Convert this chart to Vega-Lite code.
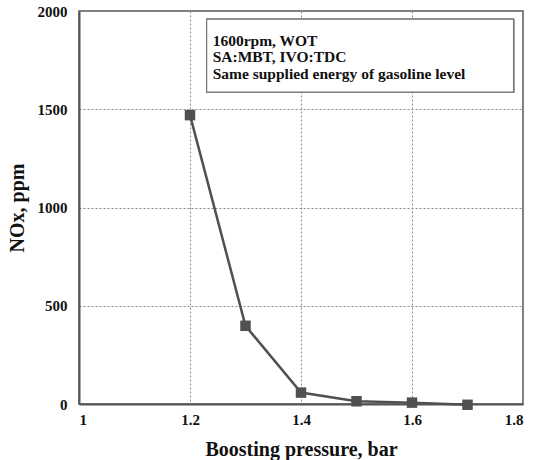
{
  "$schema": "https://vega.github.io/schema/vega-lite/v6.json",
  "width": 444,
  "height": 393,
  "autosize": {"type": "none"},
  "padding": {"left": 79, "top": 11, "right": 11, "bottom": 56},
  "background": "white",
  "config": {
    "font": "Liberation Serif",
    "view": {"stroke": "#555555", "strokeWidth": 1.5},
    "axis": {
      "labelFont": "Liberation Serif",
      "labelFontWeight": "bold",
      "labelFontSize": 15,
      "labelColor": "#111111",
      "titleFont": "Liberation Serif",
      "titleFontWeight": "bold",
      "titleFontSize": 20,
      "titleColor": "#111111",
      "ticks": false,
      "domainColor": "#555555",
      "domainWidth": 2,
      "gridColor": "#888888",
      "gridDash": [2, 2],
      "gridWidth": 1
    }
  },
  "data": {
    "values": [
      {"pressure": 1.2, "nox": 1470},
      {"pressure": 1.3, "nox": 398},
      {"pressure": 1.4, "nox": 58},
      {"pressure": 1.5, "nox": 14},
      {"pressure": 1.6, "nox": 7},
      {"pressure": 1.7, "nox": -4}
    ]
  },
  "layer": [
    {
      "mark": {"type": "line", "color": "#505050", "strokeWidth": 2.5},
      "encoding": {
        "x": {
          "field": "pressure",
          "type": "quantitative",
          "scale": {"domain": [1, 1.8], "nice": false},
          "axis": {
            "values": [1, 1.2, 1.4, 1.6, 1.8],
            "format": "~g",
            "labelPadding": 8,
            "title": "Boosting pressure, bar",
            "titlePadding": 12
          }
        },
        "y": {
          "field": "nox",
          "type": "quantitative",
          "scale": {"domain": [0, 2000], "nice": false},
          "axis": {
            "values": [0, 500, 1000, 1500, 2000],
            "format": "d",
            "labelPadding": 12,
            "title": "NOx, ppm",
            "titlePadding": 10
          }
        }
      }
    },
    {
      "mark": {"type": "square", "color": "#505050", "opacity": 1, "size": 110, "filled": true},
      "encoding": {
        "x": {"field": "pressure", "type": "quantitative"},
        "y": {"field": "nox", "type": "quantitative"}
      }
    },
    {
      "mark": {"type": "rect", "fill": "white", "stroke": "#777777", "strokeWidth": 1.2},
      "encoding": {
        "x": {"datum": 1.23, "type": "quantitative"},
        "x2": {"datum": 1.783},
        "y": {"datum": 1958, "type": "quantitative"},
        "y2": {"datum": 1587}
      }
    },
    {
      "data": {
        "values": [
          {"line": "1600rpm, WOT", "order": 0},
          {"line": "SA:MBT, IVO:TDC", "order": 1},
          {"line": "Same supplied energy of gasoline level", "order": 2}
        ]
      },
      "mark": {
        "type": "text",
        "align": "left",
        "baseline": "middle",
        "font": "Liberation Serif",
        "fontWeight": "bold",
        "fontSize": 15.5,
        "color": "#111111",
        "dx": 6
      },
      "encoding": {
        "x": {"datum": 1.23, "type": "quantitative"},
        "y": {"field": "ypos", "type": "quantitative"},
        "text": {"field": "line"}
      },
      "transform": [
        {"lookup": "order", "from": {"data": {"values": [
          {"order": 0, "ypos": 1845},
          {"order": 1, "ypos": 1765},
          {"order": 2, "ypos": 1680}
        ]}, "key": "order", "fields": ["ypos"]}}
      ]
    }
  ]
}
